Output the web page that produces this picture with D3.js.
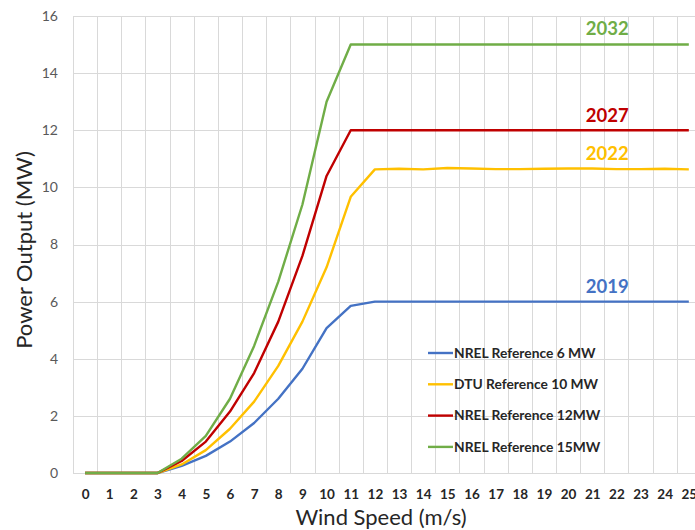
<!DOCTYPE html>
<html>
<head>
<meta charset="utf-8">
<script src="https://cdn.jsdelivr.net/npm/d3@7"></script>
<style>
  html, body { margin: 0; padding: 0; background: #fff; }
  svg { display: block; }
</style>
</head>
<body>
<svg id="chart" width="695" height="530"></svg>
<script>
// Wind speed categories (m/s)
const windSpeeds = d3.range(0, 26);

// Power output (MW) per wind speed for each reference turbine
const nrel6 = [0, 0, 0, 0, 0.25, 0.6, 1.1, 1.75, 2.6, 3.65, 5.07, 5.85, 6.0, 6.0, 6.0, 6.0, 6.0, 6.0, 6.0, 6.0, 6.0, 6.0, 6.0, 6.0, 6.0, 6.0];
const dtu10 = [0, 0, 0, 0, 0.3, 0.8, 1.55, 2.5, 3.75, 5.3, 7.2, 9.67, 10.63, 10.65, 10.63, 10.68, 10.66, 10.64, 10.64, 10.65, 10.66, 10.66, 10.64, 10.64, 10.65, 10.63];
const nrel12 = [0, 0, 0, 0, 0.42, 1.1, 2.15, 3.5, 5.3, 7.6, 10.4, 12, 12, 12, 12, 12, 12, 12, 12, 12, 12, 12, 12, 12, 12, 12];
const nrel15 = [0, 0, 0, 0, 0.5, 1.3, 2.6, 4.45, 6.7, 9.4, 13.0, 15, 15, 15, 15, 15, 15, 15, 15, 15, 15, 15, 15, 15, 15, 15];

const seriesNames = ["NREL Reference 6 MW", "DTU Reference 10 MW", "NREL Reference 12MW", "NREL Reference 15MW"];
const seriesYears = ["2019", "2022", "2027", "2032"];
const seriesColors = ["#4472C4", "#FFC000", "#C00000", "#70AD47"];
const yTicks = [0, 2, 4, 6, 8, 10, 12, 14, 16];

const series = [nrel6, dtu10, nrel12, nrel15].map((values, i) => ({
  name: seriesNames[i], year: seriesYears[i], color: seriesColors[i], values
}));

const svg = d3.select("#chart");
const plotLeft = 73, plotTop = 16, plotBottom = 473;
const plotRight = plotLeft + 26 * 24.15;

const x = d3.scalePoint().domain(windSpeeds).range([plotLeft, plotRight]).padding(0.5);
const y = d3.scaleLinear().domain([0, 16]).range([plotBottom, plotTop]);
const step = x.step();

const grid = svg.append("g").attr("stroke", "#d9d9d9").attr("stroke-width", 1);
// horizontal gridlines
grid.selectAll("line.h").data(yTicks).join("line").attr("class", "h")
  .attr("x1", plotLeft).attr("x2", plotRight)
  .attr("y1", d => Math.round(y(d)) + 0.5).attr("y2", d => Math.round(y(d)) + 0.5);
// vertical gridlines between categories
grid.selectAll("line.v").data(d3.range(0, 27)).join("line").attr("class", "v")
  .attr("x1", d => Math.round(plotLeft + d * step) + 0.5).attr("x2", d => Math.round(plotLeft + d * step) + 0.5)
  .attr("y1", plotTop).attr("y2", plotBottom);

// y axis tick labels
const yAxis = svg.append("g").attr("transform", `translate(${plotLeft - 15},0)`)
  .call(d3.axisLeft(y).tickValues(yTicks).tickSize(0).tickPadding(0));
yAxis.select(".domain").remove();
yAxis.selectAll("text")
  .attr("font-family", "Lato, 'Open Sans', sans-serif")
  .attr("font-size", 14).attr("fill", "#595959");

// x axis tick labels
const xAxis = svg.append("g").attr("transform", `translate(0,${plotBottom})`)
  .call(d3.axisBottom(x).tickSize(0).tickPadding(16));
xAxis.select(".domain").remove();
xAxis.selectAll("text")
  .attr("font-family", "Lato, 'Open Sans', sans-serif")
  .attr("font-size", 13.5).attr("font-weight", "bold").attr("fill", "#262626");

// axis titles
svg.append("text")
  .attr("x", 381).attr("y", 525).attr("text-anchor", "middle")
  .attr("font-family", "Lato, 'Open Sans', sans-serif").attr("font-size", 22).attr("fill", "#262626")
  .text("Wind Speed (m/s)");
svg.append("text")
  .attr("transform", "translate(32,250) rotate(-90)").attr("text-anchor", "middle")
  .attr("font-family", "Lato, 'Open Sans', sans-serif").attr("font-size", 22).attr("fill", "#262626")
  .text("Power Output (MW)");

// power curves
const line = d3.line().x((d, i) => x(windSpeeds[i])).y(d => y(d));
svg.append("g").selectAll("path").data(series).join("path")
  .attr("d", d => line(d.values))
  .attr("fill", "none").attr("stroke", d => d.color)
  .attr("stroke-width", 2.4).attr("stroke-linejoin", "round");

// year labels above the rated-power plateaus
const yearOffsets = { "2019": -9, "2022": -9, "2027": -8, "2032": -10 };
const yearX = (x(21) + x(22)) / 2 + 3;
svg.append("g").selectAll("text").data(series).join("text")
  .attr("x", yearX).attr("y", d => y(d.values[21]) + yearOffsets[d.year])
  .attr("text-anchor", "middle")
  .attr("font-family", "Lato, 'Open Sans', sans-serif").attr("font-size", 18.5).attr("font-weight", "bold")
  .attr("fill", d => d.color)
  .text(d => d.year);

// legend
const legend = svg.append("g").attr("transform", "translate(428,353)");
const rows = legend.selectAll("g").data(series).join("g")
  .attr("transform", (d, i) => `translate(0,${i * 31.3})`);
rows.append("line").attr("x1", 0).attr("x2", 25).attr("stroke", d => d.color).attr("stroke-width", 2.4);
rows.append("text").attr("x", 26).attr("dy", "0.35em")
  .attr("font-family", "Lato, 'Open Sans', sans-serif").attr("font-size", 13.8).attr("font-weight", "bold")
  .attr("fill", "#262626")
  .text(d => d.name);
</script>
</body>
</html>
